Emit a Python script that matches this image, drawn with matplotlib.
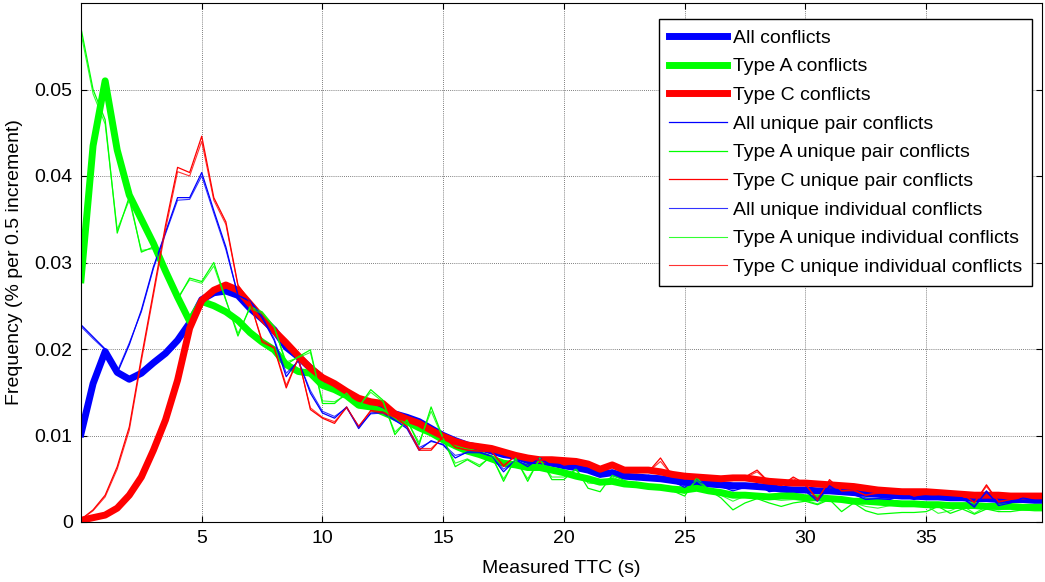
import numpy as np
import matplotlib
matplotlib.use('Agg')
import matplotlib.pyplot as plt

# TTC bins (0.5 s steps)
ttc = np.arange(0, 40.5, 0.5)

all_conf = [.0102, .0160, .0197, .0173, .0165, .0172, .0184, .0195, .0210, .0230,
            .0257, .0265, .0267, .0262, .0247, .0235, .0222, .0202, .0191, .0178,
            .0166, .0156, .0148, .0139, .0135, .0130, .0125, .0121, .0116, .0108,
            .0100, .0094, .0089, .0086, .0082, .0078, .0076, .0071, .0070, .0068,
            .0065, .0063, .0060, .0055, .0057, .0053, .0052, .0051, .0050, .0048,
            .0046, .0045, .0044, .0043, .0042, .0042, .0041, .0040, .0038, .0037,
            .0037, .0036, .0036, .0035, .0034, .0033, .0032, .0031, .0030, .0030,
            .0029, .0029, .0028, .0028, .0027, .0027, .0026, .0026, .0026, .0025,
            .0025]
type_a = [.0280, .0435, .0510, .0430, .0378, .0350, .0322, .0290, .0260, .0232,
          .0255, .0250, .0243, .0233, .0219, .0208, .0199, .0182, .0174, .0172,
          .0158, .0153, .0146, .0135, .0133, .0127, .0121, .0116, .0109, .0103,
          .0095, .0088, .0082, .0078, .0073, .0068, .0066, .0063, .0063, .0060,
          .0057, .0053, .0050, .0046, .0047, .0044, .0043, .0041, .0040, .0038,
          .0037, .0039, .0036, .0034, .0031, .0031, .0030, .0029, .0030, .0030,
          .0028, .0028, .0027, .0026, .0024, .0024, .0023, .0022, .0021, .0021,
          .0020, .0020, .0019, .0019, .0019, .0018, .0018, .0018, .0017, .0017,
          .0017]
type_c = [.0002, .0005, .0008, .0016, .0031, .0052, .0083, .0118, .0164, .0224,
          .0256, .0268, .0274, .0268, .0252, .0236, .0221, .0207, .0192, .0178,
          .0167, .0160, .0151, .0143, .0139, .0137, .0125, .0119, .0114, .0106,
          .0099, .0093, .0089, .0087, .0085, .0081, .0077, .0074, .0072, .0072,
          .0071, .0070, .0067, .0061, .0066, .0060, .0060, .0060, .0058, .0055,
          .0053, .0052, .0051, .0050, .0051, .0051, .0049, .0047, .0046, .0045,
          .0045, .0044, .0043, .0042, .0041, .0039, .0037, .0036, .0035, .0035,
          .0035, .0034, .0033, .0032, .0031, .0031, .0031, .0030, .0030, .0030,
          .0030]
all_pair = [.0228, .0214, .0200, .0172, .0205, .0245, .0295, .0335, .0375, .0375,
            .0404, .0360, .0318, .0262, .0255, .0236, .0210, .0168, .0187, .0149,
            .0126, .0120, .0133, .0108, .0126, .0127, .0118, .0108, .0083, .0094,
            .0089, .0074, .0081, .0081, .0076, .0058, .0072, .0064, .0074, .0065,
            .0064, .0063, .0062, .0052, .0060, .0052, .0049, .0054, .0050, .0047,
            .0040, .0049, .0042, .0041, .0036, .0040, .0044, .0035, .0037, .0038,
            .0036, .0024, .0042, .0033, .0032, .0026, .0027, .0026, .0030, .0026,
            .0029, .0030, .0029, .0028, .0017, .0036, .0019, .0022, .0028, .0025,
            .0025]
a_pair = [.0571, .0500, .0465, .0334, .0376, .0312, .0318, .0290, .0257, .0282,
          .0278, .0300, .0257, .0215, .0249, .0243, .0226, .0182, .0191, .0199,
          .0137, .0137, .0149, .0133, .0153, .0141, .0101, .0118, .0089, .0133,
          .0097, .0064, .0072, .0064, .0077, .0047, .0074, .0047, .0074, .0049,
          .0049, .0062, .0039, .0035, .0054, .0048, .0044, .0042, .0038, .0036,
          .0030, .0051, .0037, .0028, .0014, .0022, .0027, .0022, .0018, .0022,
          .0024, .0020, .0026, .0012, .0022, .0013, .0009, .0010, .0011, .0011,
          .0012, .0018, .0010, .0015, .0009, .0015, .0012, .0012, .0014, .0013,
          .0013]
c_pair = [.0003, .0014, .0031, .0064, .0110, .0190, .0266, .0343, .0410, .0404,
          .0446, .0375, .0347, .0274, .0255, .0208, .0201, .0155, .0190, .0130,
          .0120, .0114, .0133, .0110, .0129, .0127, .0122, .0110, .0083, .0083,
          .0099, .0086, .0083, .0082, .0082, .0064, .0077, .0075, .0072, .0073,
          .0066, .0068, .0065, .0060, .0066, .0058, .0057, .0058, .0074, .0053,
          .0050, .0052, .0049, .0048, .0048, .0052, .0060, .0046, .0042, .0052,
          .0044, .0025, .0049, .0036, .0037, .0031, .0034, .0035, .0036, .0030,
          .0033, .0034, .0034, .0033, .0022, .0043, .0023, .0026, .0030, .0031,
          .0031]
all_indiv = [.0226, .0212, .0199, .0174, .0207, .0243, .0293, .0333, .0372, .0373,
             .0400, .0357, .0315, .0262, .0256, .0238, .0212, .0172, .0186, .0152,
             .0128, .0122, .0132, .0110, .0125, .0126, .0117, .0110, .0086, .0093,
             .0090, .0077, .0080, .0080, .0076, .0061, .0071, .0066, .0072, .0066,
             .0064, .0062, .0060, .0054, .0058, .0053, .0050, .0052, .0051, .0046,
             .0042, .0047, .0043, .0040, .0038, .0041, .0042, .0036, .0036, .0037,
             .0035, .0027, .0040, .0034, .0031, .0028, .0027, .0027, .0029, .0027,
             .0028, .0029, .0028, .0027, .0019, .0034, .0021, .0023, .0027, .0025,
             .0025]
a_indiv = [.0565, .0495, .0460, .0338, .0372, .0314, .0316, .0288, .0259, .0280,
           .0276, .0296, .0256, .0218, .0247, .0241, .0225, .0185, .0190, .0196,
           .0140, .0139, .0147, .0134, .0150, .0139, .0104, .0117, .0092, .0128,
           .0096, .0068, .0073, .0066, .0075, .0050, .0072, .0050, .0072, .0052,
           .0052, .0060, .0045, .0044, .0052, .0046, .0043, .0041, .0039, .0036,
           .0033, .0048, .0036, .0031, .0024, .0030, .0030, .0027, .0025, .0026,
           .0025, .0021, .0028, .0024, .0022, .0018, .0016, .0019, .0020, .0018,
           .0019, .0010, .0013, .0019, .0010, .0018, .0014, .0016, .0019, .0018,
           .0018]
c_indiv = [.0003, .0013, .0029, .0061, .0106, .0186, .0262, .0338, .0405, .0400,
           .0440, .0372, .0344, .0273, .0254, .0210, .0202, .0158, .0189, .0132,
           .0121, .0116, .0132, .0111, .0128, .0126, .0121, .0111, .0085, .0085,
           .0098, .0087, .0083, .0082, .0081, .0066, .0076, .0074, .0071, .0072,
           .0066, .0067, .0064, .0060, .0065, .0058, .0057, .0058, .0070, .0053,
           .0051, .0051, .0049, .0048, .0048, .0051, .0058, .0046, .0043, .0050,
           .0043, .0027, .0047, .0036, .0036, .0031, .0033, .0034, .0035, .0030,
           .0032, .0033, .0033, .0032, .0023, .0041, .0024, .0026, .0029, .0030,
           .0030]

plt.rcParams['font.family'] = ['Liberation Sans', 'DejaVu Sans']
fs = 14

fig = plt.figure(figsize=(10.45, 5.82), dpi=100)
ax = fig.add_axes([81 / 1045, 60 / 582, 961 / 1045, 519 / 582])

thick = 5
ax.plot(ttc, all_conf, color='#0000ff', lw=thick, label='All conflicts')
ax.plot(ttc, type_a, color='#00ff00', lw=thick, label='Type A conflicts')
ax.plot(ttc, type_c, color='#ff0000', lw=thick, label='Type C conflicts')
ax.plot(ttc, all_pair, color='#0000ff', lw=0.9, label='All unique pair conflicts')
ax.plot(ttc, a_pair, color='#00ff00', lw=0.9, label='Type A unique pair conflicts')
ax.plot(ttc, c_pair, color='#ff0000', lw=0.9, label='Type C unique pair conflicts')
ax.plot(ttc, all_indiv, color='#0000ff', lw=0.8, alpha=0.8, label='All unique individual conflicts')
ax.plot(ttc, a_indiv, color='#00ff00', lw=0.8, alpha=0.8, label='Type A unique individual conflicts')
ax.plot(ttc, c_indiv, color='#ff0000', lw=0.8, alpha=0.8, label='Type C unique individual conflicts')

ax.set_xlim(0, 39.8)
ax.set_ylim(0, 0.06)
ax.set_xticks([5, 10, 15, 20, 25, 30, 35])
ax.set_yticks([0, 0.01, 0.02, 0.03, 0.04, 0.05])
ax.set_yticklabels(['0', '0.01', '0.02', '0.03', '0.04', '0.05'])
ax.tick_params(direction='in', top=True, right=True, length=4, labelsize=fs, pad=6)
ax.grid(True, linestyle=(0, (1, 1.5)), color='#555555', linewidth=0.6)
for s in ax.spines.values():
    s.set_linewidth(0.8)

ax.set_xlabel('Measured TTC (s)', fontsize=fs, labelpad=9)
ax.set_ylabel('Frequency (% per 0.5 increment)', fontsize=fs, labelpad=8)

leg = ax.legend(loc='upper right', bbox_to_anchor=(1031.7 / 1045, 1 - 19.3 / 582),
                bbox_transform=fig.transFigure, borderaxespad=0, fontsize=fs,
                fancybox=False, framealpha=1, edgecolor='black',
                handlelength=3.0, handletextpad=0.3, labelspacing=0.57,
                borderpad=0.5)
leg.get_frame().set_linewidth(1.0)

fig.savefig('out.png', dpi=100)
